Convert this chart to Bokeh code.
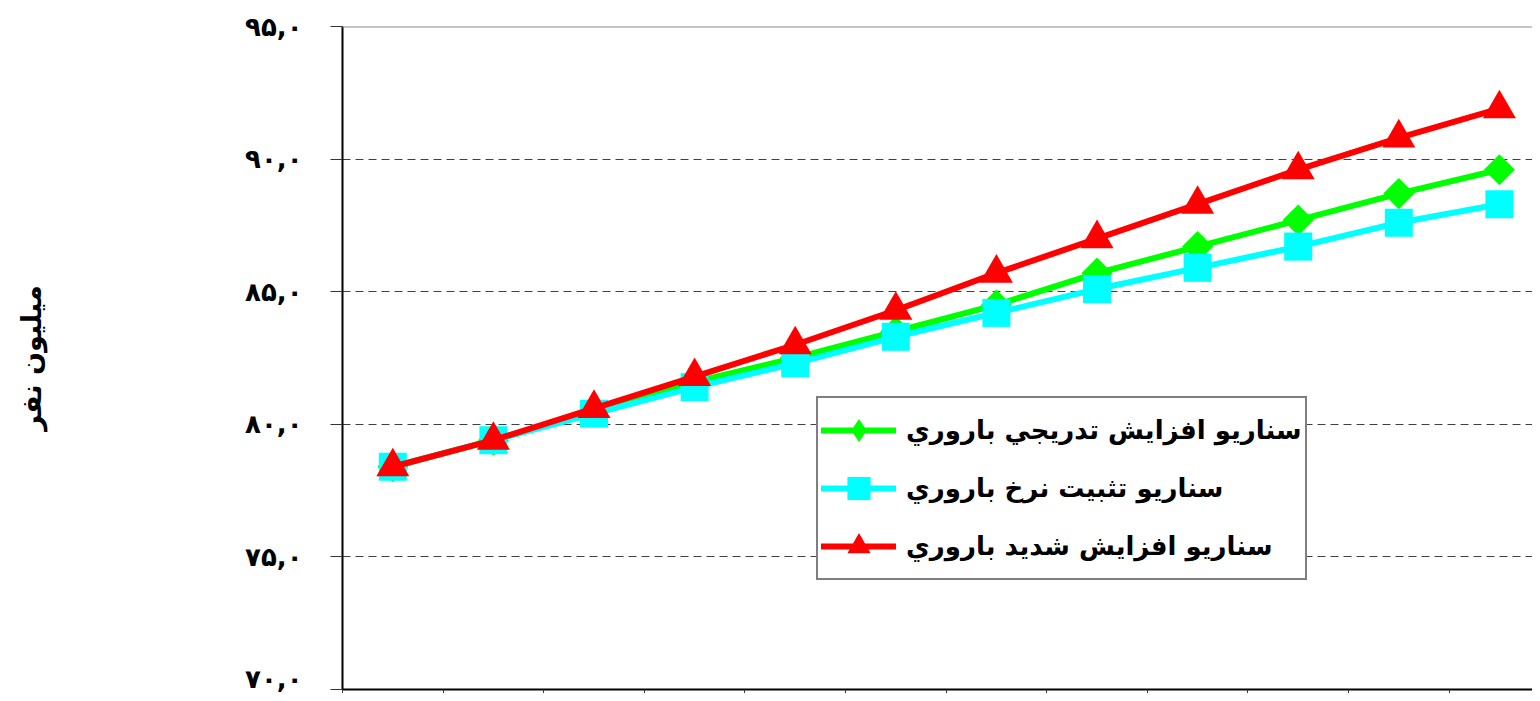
import math
from bokeh.plotting import figure
from bokeh.models import (FixedTicker, Span, Legend, LegendItem, Range1d,
                          CustomLabelingPolicy)
from bokeh.embed import file_html
from bokeh.resources import INLINE

# ---- data ----
n_points = 12
gradual = [78.4, 79.4, 80.5, 81.6, 82.5, 83.5, 84.5, 85.7, 86.7, 87.7, 88.7, 89.6]
constant = [78.4, 79.4, 80.4, 81.4, 82.3, 83.3, 84.2, 85.1, 85.9, 86.7, 87.6, 88.3]
high = [78.4, 79.4, 80.6, 81.8, 83.0, 84.3, 85.7, 87.0, 88.3, 89.6, 90.8, 91.9]

y_ticks = [70, 75, 80, 85, 90, 95]
y_tick_labels = ["۷۰,۰", "۷۵,۰", "۸۰,۰", "۸۵,۰", "۹۰,۰", "۹۵,۰"]
series_labels = ["سناريو افزايش تدريجي باروري",
                 "سناريو تثبيت نرخ باروري",
                 "سناريو افزايش شديد باروري"]
y_label = "ميليون نفر"

FONT = "DejaVu Sans"

xs = [i + 0.5 for i in range(n_points)]

W, H = 1532, 693
LEFT, TOP, BOTTOM = 342, 26, 4
cat_px = 100.6

p = figure(width=W, height=H, output_backend="svg", toolbar_location=None,
           x_range=Range1d(0, (W - LEFT) / cat_px), y_range=Range1d(70, 95),
           min_border_left=LEFT, min_border_right=0, min_border_top=TOP,
           min_border_bottom=BOTTOM)
p.outline_line_color = None
p.background_fill_color = "white"
p.border_fill_color = "white"

p.xgrid.visible = False
p.ygrid.ticker = FixedTicker(ticks=y_ticks)
p.ygrid.grid_line_color = "#404040"
p.ygrid.grid_line_dash = "8 5"
p.ygrid.grid_line_width = 1

# y axis
ya = p.yaxis[0]
ya.ticker = FixedTicker(ticks=y_ticks)
ya.major_label_overrides = dict(zip(y_ticks, y_tick_labels))
ya.axis_line_color = "black"
ya.axis_line_width = 2
ya.major_tick_out = 12
ya.major_tick_in = 0
ya.major_tick_line_color = "#333333"
ya.major_tick_line_width = 1
ya.minor_tick_line_color = None
ya.major_label_text_font = FONT
ya.major_label_text_font_style = "bold"
ya.major_label_text_font_size = "26px"
ya.major_label_text_color = "black"
ya.major_label_standoff = 28
ya.axis_label = y_label
ya.axis_label_text_font = FONT
ya.axis_label_text_font_style = "bold"
ya.axis_label_text_font_size = "27px"
ya.axis_label_text_color = "black"
ya.axis_label_standoff = 195

# x axis: ticks at category boundaries, labels lie outside the picture
xa = p.xaxis[0]
xa.ticker = FixedTicker(ticks=list(range(n_points)))
xa.major_label_policy = CustomLabelingPolicy(
    code="for (const i of indices) indices.unset(i); return indices")
xa.major_label_text_font_size = "0px"
xa.major_label_standoff = 0
xa.axis_line_color = "black"
xa.axis_line_width = 2
xa.major_tick_out = 4
xa.major_tick_in = 0
xa.major_tick_line_color = "#333333"
xa.minor_tick_line_color = None

p.add_layout(Span(location=y_ticks[-1], dimension="width",
                  line_color="#8c8c8c", line_width=2))

items = []
specs = [
    (gradual, "#00ff00", dict(marker="square", angle=math.pi / 4, size=22), "diamond"),
    (constant, "#00ffff", dict(marker="square", size=28), None),
    (high, "#ff0000", dict(marker="triangle", size=33), None),
]
for label, (vals, color, mk, legend_marker) in zip(series_labels, specs):
    ln = p.line(xs, vals, line_color=color, line_width=6, line_cap="round",
                line_join="round")
    sc = p.scatter(xs, vals, fill_color=color, line_color=None, **mk)
    rends = [ln, sc]
    if legend_marker is not None:
        # legend-only swatch (the plotted diamonds are rotated squares)
        lg = p.scatter(xs, vals, marker=legend_marker, fill_color=color,
                       line_color=None, visible=False)
        rends = [ln, lg]
    items.append(LegendItem(label=label, renderers=rends))

legend = Legend(items=items, location=(474, 109), margin=0, padding=3,
                spacing=0, glyph_width=75, glyph_height=58, label_standoff=10,
                border_line_color="black", border_line_width=2,
                background_fill_color="white", background_fill_alpha=1,
                inactive_fill_alpha=0,
                label_text_font=FONT, label_text_font_style="bold",
                label_text_font_size="26px", label_text_color="black")
p.add_layout(legend)

open("out.html", "w").write(file_html(p, INLINE))
